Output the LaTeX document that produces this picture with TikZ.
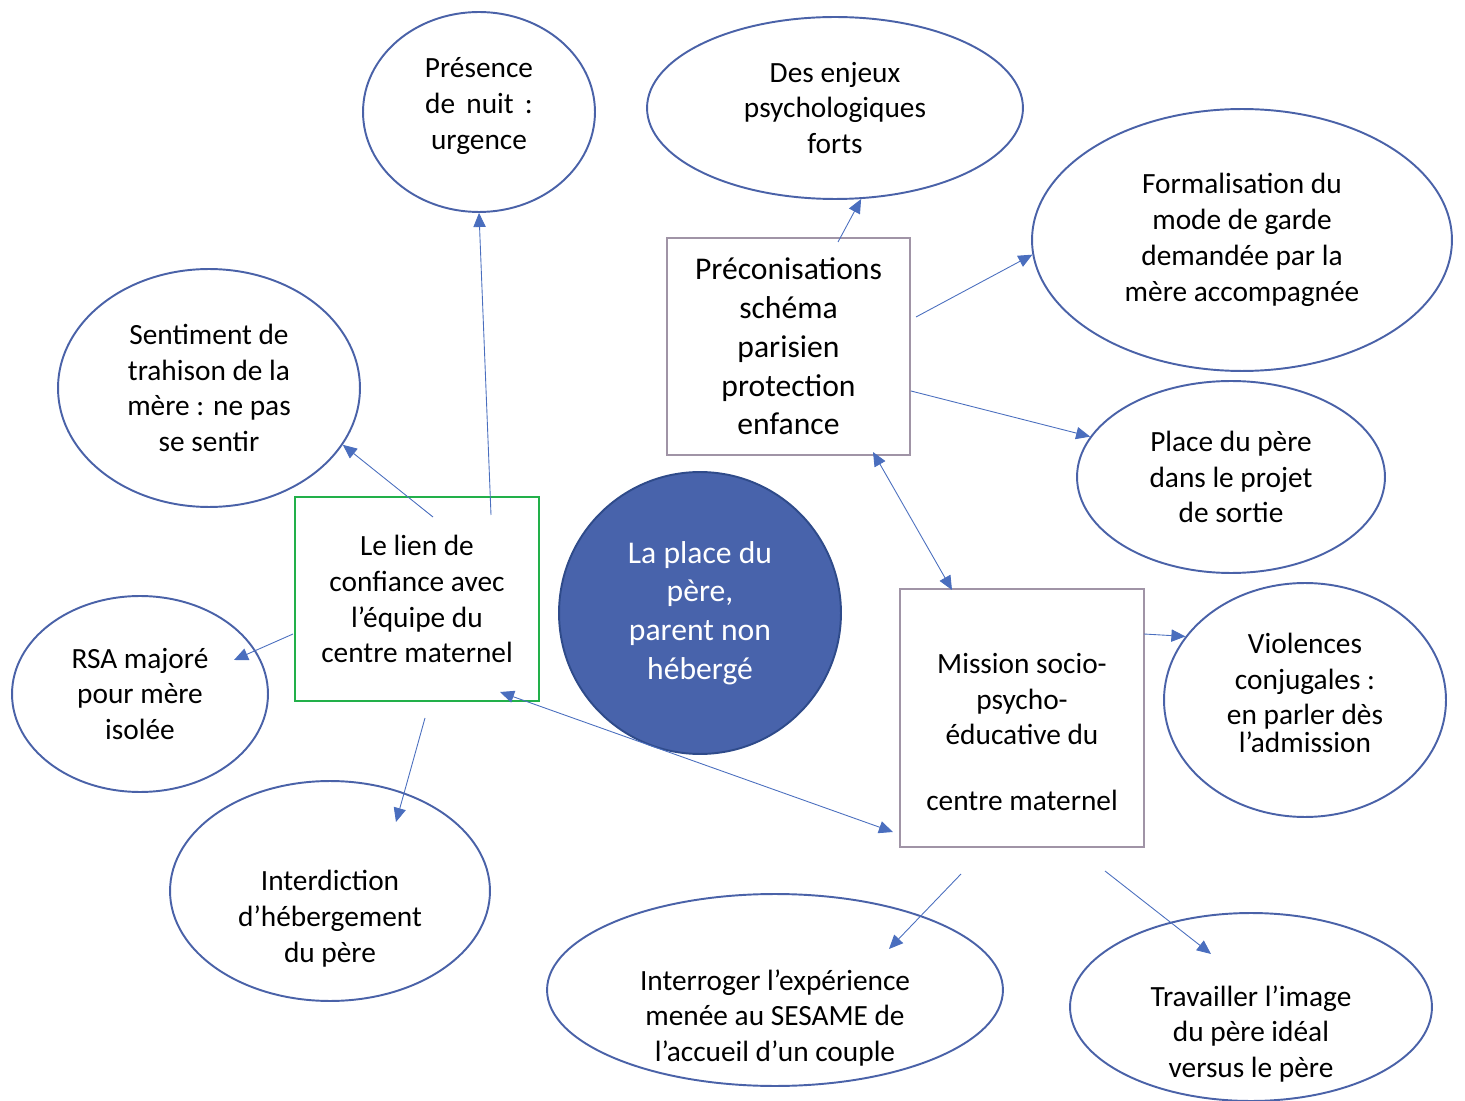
\documentclass[tikz,border=0pt]{standalone}
\usepackage{fontspec}
\setmainfont{Carlito}
\usetikzlibrary{shapes.geometric,arrows.meta}

\definecolor{ellblue}{HTML}{4A62A8}
\definecolor{arrblue}{HTML}{4A6EBE}
\definecolor{discfill}{HTML}{4863AB}
\definecolor{discline}{HTML}{2F4B8A}
\definecolor{boxgray}{HTML}{A094A6}
\definecolor{boxgreen}{HTML}{22B04A}

\begin{document}
\begin{tikzpicture}[
  x=0.02cm, y=-0.02cm,
  every node/.style={font=\fontsize{16.7}{20.4}\selectfont, align=center},
  ell/.style={ellipse, draw=ellblue, line width=1.1pt, inner sep=0pt},
  boxg/.style={rectangle, draw=boxgray, line width=1.1pt, inner sep=0pt},
  big/.style={font=\fontsize{18}{22.1}\selectfont},
  arr/.style={-{Triangle[length=8pt,width=7pt]}, arrblue, line width=0.5pt},
  darr/.style={{Triangle[length=8pt,width=7pt]}-{Triangle[length=8pt,width=7pt]}, arrblue, line width=0.5pt},
]
\useasboundingbox (0,0) rectangle (1465,1101);

% ellipses
\node[ell, minimum width=4.64cm, minimum height=4cm,
  label={[yshift=0.12cm]center:{Présence\\de\hspace{0.38em}nuit\hspace{0.38em}:\\urgence}}] (presence) at (479,112) {};
\node[ell, minimum width=7.52cm, minimum height=3.64cm] (enjeux) at (835,108) {Des enjeux\\psychologiques\\forts};
\node[ell, minimum width=8.4cm, minimum height=5.24cm] (formal) at (1242,240) {Formalisation du\\mode de garde\\demandée par la\\mère accompagnée};
\node[ell, minimum width=6.04cm, minimum height=4.76cm] (sentiment) at (209,388) {Sentiment de\\trahison de la\\mère : ne pas\\se sentir};
\node[ell, minimum width=6.16cm, minimum height=3.84cm] (place) at (1231,477) {Place du père\\dans le projet\\de sortie};
\node[ell, minimum width=5.12cm, minimum height=3.92cm] (rsa) at (140,694) {RSA majoré\\pour mère\\isolée};
\node[ell, minimum width=5.64cm, minimum height=4.68cm,
  label={[yshift=0.14cm]center:{Violences\\conjugales :\\en parler dès\\[-4.5pt]l’admission}}] (violences) at (1305,700) {};
\node[ell, minimum width=6.4cm, minimum height=4.4cm,
  label={[yshift=-0.56cm]center:{Interdiction\\d’hébergement\\du père}}] (interdiction) at (330,891) {};
\node[ell, minimum width=9.12cm, minimum height=3.84cm,
  label={[yshift=-0.56cm]center:{Interroger l’expérience\\menée au SESAME de\\l’accueil d’un couple}}] (interroger) at (775,990) {};
\node[ell, minimum width=7.24cm, minimum height=3.76cm,
  label={[yshift=-0.54cm]center:{Travailler l’image\\du père idéal\\versus le père}}] (travailler) at (1251,1007) {};

% boxes and centre
\node[circle, draw=discline, line width=1.1pt, fill=discfill, text=white, big, minimum size=5.64cm, inner sep=0pt] (pere) at (700,613) {La place du\\père,\\parent non\\hébergé};
\node[boxg, big, minimum width=4.86cm, minimum height=4.34cm] (precon) at (788.5,346.5) {Préconisations\\schéma\\parisien\\protection\\enfance};
\node[boxg, draw=boxgreen, minimum width=4.88cm, minimum height=4.08cm] (lien) at (417,599) {Le lien de\\confiance avec\\l’équipe du\\centre maternel};
\node[boxg, minimum width=4.88cm, minimum height=5.16cm,
  label={[yshift=-0.28cm]center:{Mission socio-\\psycho-\\éducative du\\[17pt]centre maternel}}] (mission) at (1022,718) {};

% free ends
\coordinate (lienA) at (491,515);
\coordinate (lienB) at (433,517);
\coordinate (lienC) at (293,634);
\coordinate (lienD) at (425,718);
\coordinate (lienE) at (500,692);
\coordinate (rsaT) at (234,660);
\coordinate (interT) at (396,822);
\coordinate (missA) at (893,832);
\coordinate (preA) at (838,242);
\coordinate (preB) at (916,317);
\coordinate (preC) at (911,391);
\coordinate (preD) at (873,452);
\coordinate (missB) at (952,590);
\coordinate (missC) at (1144,634);
\coordinate (missD) at (961,874);
\coordinate (missE) at (1105,871);
\coordinate (interrT) at (889,949);
\coordinate (travT) at (1211,954);

% connectors
\draw[arr] (lienA) -- (presence.south);
\draw[arr] (lienB) -- (sentiment.-23);
\draw[arr] (lienC) -- (rsaT);
\draw[arr] (lienD) -- (interT);
\draw[darr] (lienE) -- (missA);
\draw[arr] (preA) -- (enjeux.-74);
\draw[arr] (preB) -- (formal.184);
\draw[arr] (preC) -- (place.164);
\draw[darr] (preD) -- (missB);
\draw[arr] (missC) -- (violences.152);
\draw[arr] (missD) -- (interrT);
\draw[arr] (missE) -- (travT);

\end{tikzpicture}
\end{document}
